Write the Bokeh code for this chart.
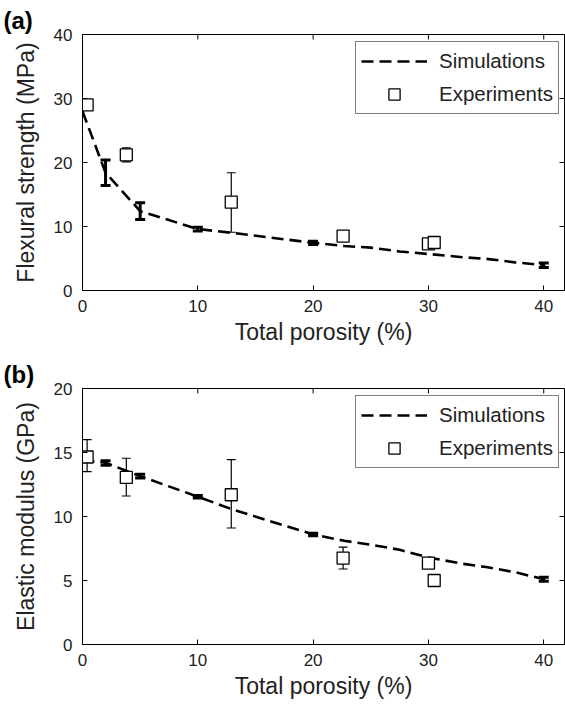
from bokeh.plotting import figure
from bokeh.models import ColumnDataSource, Whisker, TeeHead, Range1d
from bokeh.layouts import column
from bokeh.embed import file_html
from bokeh.resources import INLINE

# simulation curve
sim_x = [0, 2, 5, 10, 13, 20, 22.7, 25, 27.5, 30, 33, 35, 37.5, 40]
sim_strength = [28.0, 18.4, 12.4, 9.6, 9.0, 7.45, 6.95, 6.7, 6.1, 5.7, 5.2, 4.95, 4.4, 3.95]
sim_modulus = [14.4, 14.2, 13.15, 11.55, 10.55, 8.6, 8.1, 7.8, 7.4, 6.8, 6.3, 6.05, 5.65, 5.1]

# simulation error bars
sim_err_x = [2, 5, 10, 20, 40]
sim_strength_lo = [16.4, 11.1, 9.3, 7.2, 3.6]
sim_strength_hi = [20.4, 13.7, 9.9, 7.7, 4.3]
sim_modulus_lo = [14.0, 13.0, 11.45, 8.5, 4.95]
sim_modulus_hi = [14.35, 13.3, 11.65, 8.7, 5.25]

# experiments
exp_x = [0.4, 3.8, 12.9, 22.6, 30.0, 30.5]
exp_strength = [29.0, 21.2, 13.8, 8.5, 7.3, 7.5]
exp_modulus = [14.65, 13.05, 11.7, 6.75, 6.35, 5.0]

exp_strength_err_x = [3.8, 12.9]
exp_strength_lo = [20.1, 9.1]
exp_strength_hi = [22.3, 18.4]
exp_modulus_err_x = [0.4, 3.8, 12.9, 22.6]
exp_modulus_lo = [13.5, 11.6, 9.1, 5.9]
exp_modulus_hi = [16.0, 14.55, 14.45, 7.6]

x_ticks = [0, 10, 20, 30, 40]
X_MAX = 41.8
FONT = "Liberation Sans"
TXT = "#222222"


def make_panel(tag, ylabel, y_max, y_ticks, sim_y, sim_lo, sim_hi, exp_y,
               exp_err_x, exp_lo, exp_hi, border_top, border_bottom):
    p = figure(width=565, height=353, x_range=Range1d(0, X_MAX), y_range=Range1d(0, y_max),
               output_backend="svg", toolbar_location=None,
               min_border_left=82, min_border_right=1,
               min_border_top=border_top, min_border_bottom=border_bottom)
    p.xgrid.grid_line_color = None
    p.ygrid.grid_line_color = None
    p.outline_line_color = "black"
    p.xaxis.ticker = x_ticks
    p.yaxis.ticker = y_ticks
    for ax in p.xaxis + p.yaxis:
        ax.axis_line_color = "black"
        ax.major_tick_line_color = "black"
        ax.major_tick_in = 5
        ax.major_tick_out = 0
        ax.minor_tick_line_color = None
        ax.major_label_text_font = FONT
        ax.major_label_text_font_size = "17px"
        ax.major_label_text_color = TXT
    p.xaxis.major_label_standoff = 9
    p.yaxis.major_label_standoff = 10
    p.xaxis.axis_label = "Total porosity (%)"
    p.yaxis.axis_label = ylabel
    for ax in p.xaxis + p.yaxis:
        ax.axis_label_text_font = FONT
        ax.axis_label_text_font_size = "23px"
        ax.axis_label_text_font_style = "normal"
        ax.axis_label_text_color = TXT
    p.xaxis.axis_label_standoff = 4
    p.yaxis.axis_label_standoff = 12

    # panel tag
    p.title.text = tag
    p.title.align = "left"
    p.title.offset = -79
    p.title.standoff = 2
    p.title.text_font = FONT
    p.title.text_font_size = "24px"
    p.title.text_font_style = "bold"
    p.title.text_color = "black"

    # inward ticks on the top and right edges of the box
    p.scatter(x_ticks, [y_max] * len(x_ticks), marker="dash", angle=1.5708, size=10,
              line_color="black", line_width=1)
    p.scatter([X_MAX] * len(y_ticks), y_ticks, marker="dash", size=10,
              line_color="black", line_width=1)

    src_sim_err = ColumnDataSource(dict(x=sim_err_x, lo=sim_lo, hi=sim_hi))
    p.add_layout(Whisker(source=src_sim_err, base="x", lower="lo", upper="hi",
                         line_color="black", line_width=3,
                         lower_head=TeeHead(size=10, line_width=3, line_color="black"),
                         upper_head=TeeHead(size=10, line_width=3, line_color="black")))
    src_exp_err = ColumnDataSource(dict(x=exp_err_x, lo=exp_lo, hi=exp_hi))
    p.add_layout(Whisker(source=src_exp_err, base="x", lower="lo", upper="hi",
                         line_color="black", line_width=1.2,
                         lower_head=TeeHead(size=9, line_width=1.2, line_color="black"),
                         upper_head=TeeHead(size=9, line_width=1.2, line_color="black")))

    p.line(sim_x, sim_y, line_color="black", line_width=2.6, line_dash="12 6",
           legend_label="Simulations")
    p.scatter(exp_x, exp_y, marker="square", size=12, fill_color="white",
              line_color="black", line_width=1.3, legend_label="Experiments")

    leg = p.legend[0]
    leg.location = (273, 176)
    leg.padding = 5
    leg.spacing = 5
    leg.glyph_width = 66
    leg.glyph_height = 28
    leg.label_height = 28
    leg.label_standoff = 12
    leg.label_text_font = FONT
    leg.label_text_font_size = "20.5px"
    leg.label_text_color = TXT
    leg.border_line_color = "black"
    leg.border_line_width = 1
    leg.background_fill_alpha = 1
    return p


p1 = make_panel("(a)", "Flexural strength (MPa)", 40, [0, 10, 20, 30, 40],
                sim_strength, sim_strength_lo, sim_strength_hi, exp_strength,
                exp_strength_err_x, exp_strength_lo, exp_strength_hi, 34, 63)
p2 = make_panel("(b)", "Elastic modulus (GPa)", 20, [0, 5, 10, 15, 20],
                sim_modulus, sim_modulus_lo, sim_modulus_hi, exp_modulus,
                exp_modulus_err_x, exp_modulus_lo, exp_modulus_hi, 35, 62)

p = column(p1, p2)
open("out.html", "w").write(file_html(p, INLINE))
